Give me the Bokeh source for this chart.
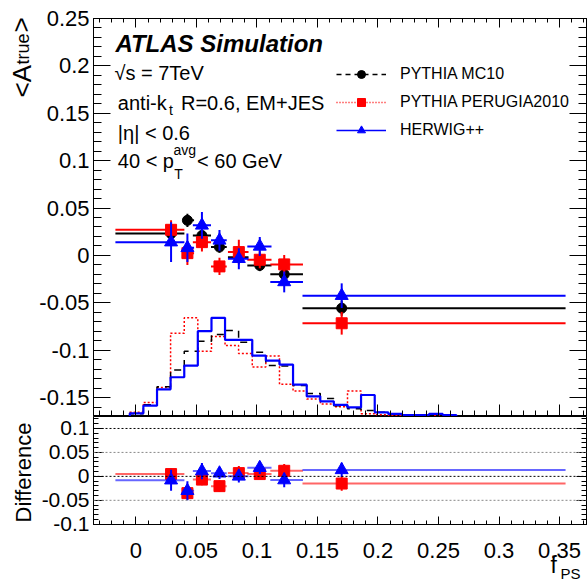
import math
from bokeh.plotting import figure
from bokeh.models import (Range1d, LinearAxis, SingleIntervalTicker, CustomJSTickFormatter,
                          Label, Legend, LegendItem, Span, ColumnDataSource)
from bokeh.layouts import column, row
from bokeh.embed import file_html
from bokeh.resources import INLINE

# ---------------- data ----------------
x_mean = [0.029, 0.0425, 0.0545, 0.069, 0.085, 0.1023, 0.1225, 0.170]
x_lo = [-0.017, 0.039, 0.047, 0.062, 0.076, 0.092, 0.111, 0.1376]
x_hi = [0.040, 0.048, 0.062, 0.075, 0.093, 0.112, 0.138, 0.355]

mc10 = [0.023, 0.037, 0.021, 0.0088, -0.002, -0.0106, -0.020, -0.0557]
mc10_err = [0.006, 0.007, 0.006, 0.006, 0.006, 0.006, 0.006, 0.008]
perugia = [0.027, 0.0024, 0.014, -0.0116, 0.0035, -0.0046, -0.0095, -0.0716]
perugia_err = [0.010, 0.0125, 0.010, 0.009, 0.013, 0.009, 0.010, 0.012]
herwig = [0.014, 0.008, 0.0317, 0.0159, -0.0035, 0.0095, -0.028, -0.0425]
herwig_err = [0.021, 0.015, 0.014, 0.011, 0.011, 0.010, 0.011, 0.013]

diff_perugia = [0.0048, -0.035, -0.0068, -0.0204, 0.0068, 0.0048, 0.0116, -0.015]
diff_perugia_err = [0.012, 0.014, 0.012, 0.012, 0.015, 0.010, 0.014, 0.015]
diff_herwig = [-0.008, -0.030, 0.011, 0.0065, 0.0, 0.018, -0.0077, 0.0135]
diff_herwig_err = [0.022, 0.020, 0.017, 0.012, 0.013, 0.013, 0.015, 0.015]

hist_edges = [-0.0051, 0.0061, 0.0174, 0.0286, 0.0399, 0.0511, 0.0624, 0.0736, 0.0848,
              0.0961, 0.1073, 0.1186, 0.1298, 0.1411, 0.1523, 0.1635, 0.1748, 0.1860,
              0.1973, 0.2085, 0.2198, 0.2310, 0.2422, 0.2535, 0.2647]
hist_herwig = [-0.1667, -0.1586, -0.1413, -0.1286, -0.1163, -0.0800, -0.0659, -0.0891,
               -0.0891, -0.1057, -0.1110, -0.1152, -0.1364, -0.1487, -0.1540, -0.1578,
               -0.1604, -0.1473, -0.1656, -0.1673, -0.1684, -0.1684, -0.1673, -0.1684]
hist_mc10 = [-0.1670, -0.1575, -0.1385, -0.1208, -0.1012, -0.0906, -0.0835, -0.0793,
             -0.0916, -0.1022, -0.1163, -0.1168, -0.1374, -0.1456, -0.1509, -0.1586,
             -0.1617, -0.1638, -0.1656, -0.1670, -0.1681, -0.1686, -0.1691, -0.1691]
hist_perugia = [-0.1656, -0.1551, -0.1395, -0.0821, -0.0659, -0.1012, -0.0856, -0.0951,
                -0.1036, -0.1177, -0.1062, -0.1360, -0.1432, -0.1515, -0.1568, -0.1596,
                -0.1432, -0.1670, -0.1681, -0.1686, -0.1691, -0.1686, -0.1691, -0.1697]

diff_ref_lines = [0.1, 0.05, 0.0, -0.05]
diff_ref_colors = ["black", "#888888", "black", "#888888"]

x_tick_values = [0.0, 0.05, 0.1, 0.15, 0.2, 0.25, 0.3, 0.35]
x_tick_labels = ["0", "0.05", "0.1", "0.15", "0.2", "0.25", "0.3", "0.35"]

series_labels = ["PYTHIA MC10", "PYTHIA PERUGIA2010", "HERWIG++"]

FONT = "Liberation Sans"
Y_MIN, Y_MAX = -0.17, 0.25
X_MIN, X_MAX = -0.0351, 0.3723
D_MIN, D_MAX = -0.1005, 0.125

PAGE_H = 581
LEFT_W = 36          # width of the strip holding the y titles
BORDER_L = 56        # room for y tick labels
FRAME_W = 493
BORDER_R = 2
DIFF_BOTTOM = 13     # room below the difference frame for its lowest tick label
BOTTOM_H = 44

fmt_code = "return String(parseFloat(tick.toFixed(3)));"


def ticker():
    return SingleIntervalTicker(interval=0.05, num_minor_ticks=5)


def style_axis(ax, major_in, minor_in, labels=True, size="22px", standoff=4):
    ax.ticker = ticker()
    ax.major_tick_in = major_in
    ax.major_tick_out = 0
    ax.minor_tick_in = minor_in
    ax.minor_tick_out = 0
    ax.axis_line_color = "black"
    ax.major_tick_line_color = "black"
    ax.minor_tick_line_color = "black"
    if labels:
        ax.formatter = CustomJSTickFormatter(code=fmt_code)
        ax.major_label_text_font = FONT
        ax.major_label_text_font_size = size
        ax.major_label_text_color = "black"
        ax.major_label_standoff = standoff
    else:
        ax.formatter = CustomJSTickFormatter(code="return '';")
        ax.major_label_text_font_size = "1px"
        ax.major_label_standoff = 0


def lab(p, x, y, text, size, style="normal", angle=0.0, align="left"):
    # y is the vertical middle of the text line
    p.add_layout(Label(x=x, y=y, text=text, text_font=FONT, text_font_size=size,
                       text_font_style=style, angle=angle, text_align=align,
                       text_baseline="middle", text_color="black"))


xr = Range1d(X_MIN, X_MAX)

# ---------------- main panel ----------------
p1 = figure(frame_width=FRAME_W, frame_height=398, x_range=xr, y_range=Range1d(Y_MIN, Y_MAX),
            output_backend="svg", toolbar_location=None,
            min_border_left=BORDER_L, min_border_right=BORDER_R, min_border_top=18,
            min_border_bottom=0)
p1.grid.visible = False
p1.outline_line_color = "black"
style_axis(p1.xaxis[0], 12, 6, labels=False)
style_axis(p1.yaxis[0], 17, 8, labels=True)
top_ax = LinearAxis()
style_axis(top_ax, 9, 4, labels=False)
p1.add_layout(top_ax, "above")
right_ax = LinearAxis()
style_axis(right_ax, 17, 8, labels=False)
p1.add_layout(right_ax, "right")


def step_xy(edges, heights, base):
    xs = [edges[0]] + list(edges)
    ys = [base] + list(heights) + [base]
    return xs, ys


for h, col, dash, lw in [(hist_perugia, "red", "2 2", 1.5),
                         (hist_mc10, "black", "7 6", 1.5),
                         (hist_herwig, "blue", "solid", 2.2)]:
    xs, ys = step_xy(hist_edges, h, Y_MIN)
    p1.step(xs, ys, mode="after", line_color=col, line_dash=dash, line_width=lw)


def draw_points(p, yv, yerr, color, marker, size, bar_alpha=1.0, lw=2):
    src = ColumnDataSource(dict(x=x_mean, y=yv, xlo=x_lo, xhi=x_hi,
                                ylo=[a - b for a, b in zip(yv, yerr)],
                                yhi=[a + b for a, b in zip(yv, yerr)]))
    p.segment(x0="xlo", x1="xhi", y0="y", y1="y", source=src, line_color=color,
              line_width=lw, line_alpha=bar_alpha)
    p.segment(x0="x", x1="x", y0="ylo", y1="yhi", source=src, line_color=color,
              line_width=lw)
    p.scatter(x="x", y="y", source=src, marker=marker, size=size, fill_color=color,
              line_color=color)


draw_points(p1, mc10, mc10_err, "black", "circle", 10)
draw_points(p1, perugia, perugia_err, "red", "square", 11)
draw_points(p1, herwig, herwig_err, "blue", "triangle", 13)

# legend (renderers with no visible points, used only to show the styles)
nan = float("nan")
leg_items = []
for lab_txt, col, dash, mk in [(series_labels[0], "black", "5 4", "circle"),
                               (series_labels[1], "red", "1 2", "square"),
                               (series_labels[2], "blue", "solid", "triangle")]:
    lr = p1.line(x=[nan], y=[nan], line_color=col, line_dash=dash, line_width=1.5)
    sr = p1.scatter(x=[nan], y=[nan], marker=mk, fill_color=col, line_color=col, size=9)
    leg_items.append(LegendItem(label=lab_txt, renderers=[lr, sr]))
legend = Legend(items=leg_items, location=(243, 276), padding=0, margin=0, spacing=8,
                glyph_width=50, glyph_height=20, label_height=20, label_standoff=14,
                label_text_font=FONT, label_text_font_size="16px", label_text_color="black",
                border_line_alpha=0, background_fill_alpha=0)
p1.add_layout(legend, "center")

lab(p1, -0.0170, 0.2236, "ATLAS Simulation", "24px", "bold italic")
lab(p1, -0.0178, 0.1924, "\u221as = 7TeV", "20px")
lab(p1, -0.0150, 0.1612, "anti-k", "20px")
lab(p1, 0.0272, 0.1533, "t", "14px")
lab(p1, 0.0372, 0.1612, "R=0.6, EM+JES", "20px")
lab(p1, -0.0150, 0.1295, "|\u03b7| < 0.6", "20px")
lab(p1, -0.0150, 0.0999, "40 < p", "20px")
lab(p1, 0.0316, 0.0862, "T", "14px")
lab(p1, 0.0310, 0.1114, "avg", "14px")
lab(p1, 0.0505, 0.0999, "< 60 GeV", "20px")

# ---------------- difference panel ----------------
p2 = figure(frame_width=FRAME_W, frame_height=108, x_range=xr,
            y_range=Range1d(D_MIN, D_MAX),
            output_backend="svg", toolbar_location=None,
            min_border_left=BORDER_L, min_border_right=BORDER_R, min_border_top=0,
            min_border_bottom=DIFF_BOTTOM)
p2.grid.visible = False
p2.outline_line_color = "black"
style_axis(p2.xaxis[0], 8, 4, labels=False)
style_axis(p2.yaxis[0], 10, 5, labels=True, size="21px")
right2 = LinearAxis()
style_axis(right2, 10, 5, labels=False)
p2.add_layout(right2, "right")

for loc, col in zip(diff_ref_lines, diff_ref_colors):
    p2.add_layout(Span(location=loc, dimension="width", line_color=col,
                       line_dash="2 2", line_width=1))

draw_points(p2, diff_perugia, diff_perugia_err, "red", "square", 11, bar_alpha=0.6)
draw_points(p2, diff_herwig, diff_herwig_err, "blue", "triangle", 13, bar_alpha=0.6)

# ---------------- strip below: x tick labels and x title ----------------
# y in this strip = pixels above the page bottom
pb = figure(frame_width=FRAME_W, frame_height=BOTTOM_H, x_range=xr,
            y_range=Range1d(0, BOTTOM_H),
            output_backend="svg", toolbar_location=None, x_axis_type=None, y_axis_type=None,
            min_border_left=BORDER_L, min_border_right=BORDER_R, min_border_top=0,
            min_border_bottom=0)
pb.grid.visible = False
pb.outline_line_color = None
for v, t in zip(x_tick_values, x_tick_labels):
    lab(pb, v, 31.5, t, "22px", align="center")
lab(pb, 0.3425, 17, "f", "23px")
lab(pb, 0.3508, 8, "PS", "15px")

# ---------------- strip on the left: y titles ----------------
# y in this strip = pixels above the page bottom
pl = figure(frame_width=LEFT_W, frame_height=PAGE_H, x_range=Range1d(0, LEFT_W),
            y_range=Range1d(0, PAGE_H), output_backend="svg", toolbar_location=None,
            x_axis_type=None, y_axis_type=None,
            min_border_left=0, min_border_right=0, min_border_top=0, min_border_bottom=0)
pl.grid.visible = False
pl.outline_line_color = None
lab(pl, 21, PAGE_H - 97, "<A", "26px", angle=math.pi / 2)
lab(pl, 22, PAGE_H - 64, "true", "18px", angle=math.pi / 2)
lab(pl, 20, PAGE_H - 32, ">", "26px", angle=math.pi / 2)
lab(pl, 23, PAGE_H - 472, "Difference", "22px", angle=math.pi / 2, align="center")

layout = row(pl, column(p1, p2, pb, spacing=0), spacing=0)
open("out.html", "w").write(file_html(layout, INLINE))
